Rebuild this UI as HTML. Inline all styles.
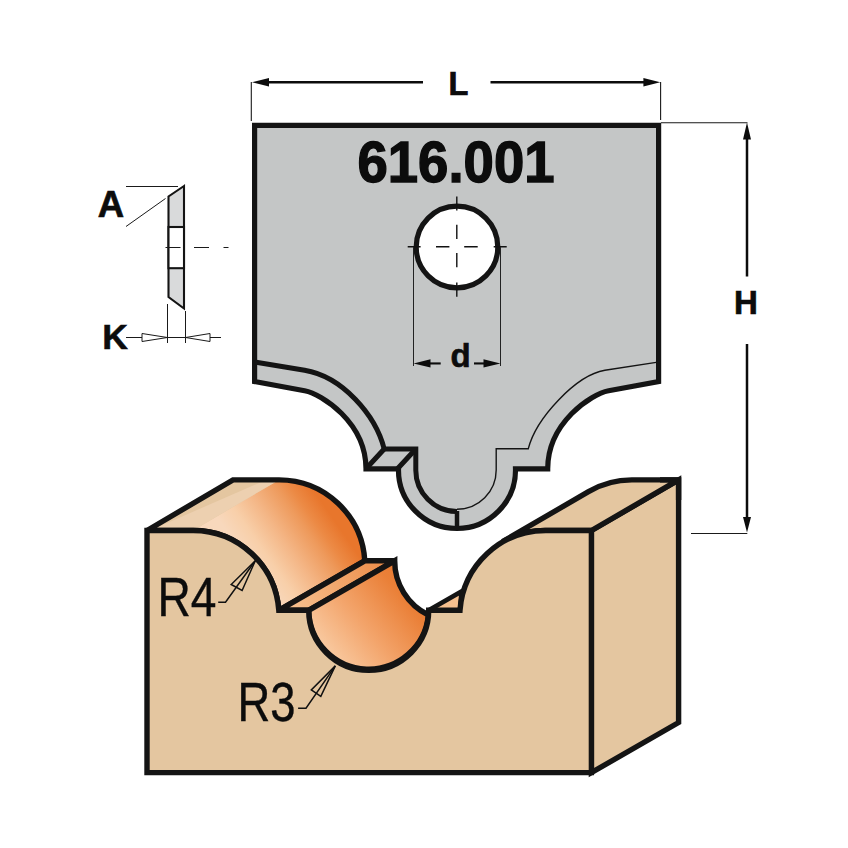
<!DOCTYPE html>
<html><head><meta charset="utf-8"><title>616.001</title>
<style>
html,body{margin:0;padding:0;background:#fff;}
svg{display:block;}
text{font-family:"Liberation Sans",Arial,sans-serif;fill:#0c0c0c;}
.b{font-weight:bold;}
</style></head><body>
<svg width="848" height="848" viewBox="0 0 848 848">
<defs>
<linearGradient id="g1" gradientUnits="userSpaceOnUse" x1="167.6" y1="445.8" x2="245.2" y2="391.9">
<stop offset="0" stop-color="#F8D8BC"/>
<stop offset="0.2" stop-color="#F8CFA9"/>
<stop offset="0.44" stop-color="#F4B686"/>
<stop offset="0.70" stop-color="#EE9A5C"/>
<stop offset="0.82" stop-color="#EC8A45"/>
<stop offset="1" stop-color="#E8762C"/>
</linearGradient>
<linearGradient id="g0" gradientUnits="userSpaceOnUse" x1="147" y1="530.8" x2="170" y2="570.6">
<stop offset="0" stop-color="#E4C6A0"/>
<stop offset="1" stop-color="#EBCDAA"/>
</linearGradient>
<linearGradient id="g2" gradientUnits="userSpaceOnUse" x1="320" y1="662" x2="428" y2="574">
<stop offset="0" stop-color="#FAD3AE"/>
<stop offset="0.4" stop-color="#F3A56C"/>
<stop offset="0.75" stop-color="#EA8038"/>
<stop offset="1" stop-color="#E7742A"/>
</linearGradient>
<linearGradient id="g3" gradientUnits="userSpaceOnUse" x1="290" y1="605" x2="390" y2="560">
<stop offset="0" stop-color="#F6C08F"/>
<stop offset="1" stop-color="#EC8A45"/>
</linearGradient>
</defs>
<rect width="848" height="848" fill="#fff"/>

<!-- ===== CUTTER ===== -->
<g id="cutter" stroke="#141414" stroke-linejoin="miter" fill="none">
<path id="cutbody" d="M254.6,125.4 L658.6,125.4 L658.6,381.5 L608.6,390.7 C591.7,393.8 547.7,422.4 547.7,468.8 L515.5,468.8 A58.5,58.5 0 0 1 457,528.5 A58.5,58.5 0 0 1 398.5,468.8 L366,468.8 C366,422.4 321.5,393.8 304.6,390.7 L254.6,381.5 Z" fill="#C4C6C6" stroke-width="5.2"/>
<!-- left thick bevel -->
<path d="M254.6,362 L304.6,370.3 C342.3,376.6 375.6,414.9 384.2,449 L415.8,449 L415.8,470 A41.2,41.2 0 0 0 457,511.5" stroke-width="5"/>
<path d="M366,468.8 L384.2,449 M397.5,468.8 L415.8,449" stroke-width="5"/>
<path d="M457,511 L457,528.5" stroke-width="4.5"/>
<!-- right thin bevel -->
<path d="M656.2,362.4 L604.9,370.3 C576,375.1 535.9,418.4 528.3,448.7 L496.2,448.7 L496.2,470 A39.3,39.3 0 0 1 457,509.3" stroke-width="1.4"/>
</g>
<!-- hole -->
<circle cx="457" cy="247" r="40.8" fill="#fff" stroke="#141414" stroke-width="5.2"/>
<g stroke="#111" stroke-width="1.4" fill="none">
<path d="M407.7,246.8 H420.6 M436,246.8 H449.4 M464.2,246.8 H477.7 M493.7,246.8 H506.7 M456.8,196.5 V210.6 M456.8,224.8 V238.9 M456.8,253 V267.2 M456.8,282.5 V296.7"/>
<path d="M413.5,247 V366 M500.5,247 V366" stroke-width="1" stroke="#222"/>
</g>
<!-- d arrows -->
<g fill="#0c0c0c" stroke="none">
<path d="M413.6,363.4 L430.5,359.2 L430.5,367.6 Z"/>
<rect x="430" y="362.4" width="10.7" height="2.1"/>
<path d="M500.4,363.4 L483.5,359.2 L483.5,367.6 Z"/>
<rect x="474" y="362.4" width="10" height="2.1"/>
</g>
<text class="b" x="460.5" y="367.4" font-size="33" text-anchor="middle" stroke="#0c0c0c" stroke-width="0.6">d</text>
<text class="b" id="t616" x="456" y="182.3" font-size="57" text-anchor="middle" textLength="197" lengthAdjust="spacingAndGlyphs" stroke="#0c0c0c" stroke-width="1.4">616.001</text>

<!-- L dimension -->
<g stroke="#1a1a1a" stroke-width="1.1" fill="none">
<path d="M251.3,82 V121 M660.6,82 V120 M661,122.7 H747.5"/>
<path d="M266,82.3 H423 M490.5,82.3 H646" stroke-width="2.5" stroke="#0c0c0c"/>
</g>
<path d="M252,82.3 L269,78.1 L269,86.5 Z M660.2,82.3 L643.4,78.1 L643.4,86.5 Z" fill="#0c0c0c"/>
<text class="b" x="458.5" y="95.4" font-size="32.5" text-anchor="middle" stroke="#0c0c0c" stroke-width="0.7">L</text>

<!-- H dimension -->
<g stroke="#0c0c0c" fill="none">
<path d="M747,137 V276.5 M747,344 V519" stroke-width="2.5"/>
<path d="M691,533.5 H747.3" stroke-width="1.1" stroke="#1a1a1a"/>
</g>
<path d="M747,122.4 L743,139.6 L751,139.6 Z M747,532.6 L743,517 L751,517 Z" fill="#0c0c0c"/>
<text class="b" x="746" y="313.9" font-size="33" text-anchor="middle" stroke="#0c0c0c" stroke-width="0.7">H</text>

<!-- ===== SIDE PROFILE (A / K) ===== -->
<g stroke="#141414" stroke-width="2.1" stroke-linejoin="miter">
<path d="M184,186 L168.5,196.5 L168.5,297 L184,308.5 Z" fill="#D9DADB"/>
<rect x="168.5" y="227" width="15.5" height="41.2" fill="#fff"/>
</g>
<g stroke="#1a1a1a" stroke-width="1" fill="none">
<path d="M126,186.5 H178 M126,226.5 L165.5,198.5"/>
<path d="M165.5,247.5 H180.5 M194,247.5 H209 M223.5,247.5 H228.5"/>
<path d="M126,337.5 H221 M167.5,304 V343 M185.5,311 V343"/>
<path d="M167.4,337.5 L142,333.5 L142,341.5 Z M185.6,337.5 L210,333.5 L210,341.5 Z" fill="#fff"/>
</g>
<text class="b" x="111" y="217.4" font-size="36.5" text-anchor="middle" stroke="#0c0c0c" stroke-width="0.7">A</text>
<text class="b" x="115" y="349.4" font-size="35.5" text-anchor="middle" stroke="#0c0c0c" stroke-width="0.6">K</text>

<!-- ===== WOOD BLOCK ===== -->
<g stroke="#141414" stroke-width="5.4" stroke-linejoin="miter" stroke-miterlimit="2.5">
<!-- right side face -->
<path d="M591.4,530.5 L678.6,479.9 L678.6,722.5 L591.4,772.6 Z" fill="#E4C6A0"/>
<!-- right top surface -->
<path d="M502.5,541.7 L588.5,491.6 A86,86 0 0 1 631.8,479.9 L678.6,479.9 L591.4,530.5 L545.8,530.5 A86,86 0 0 0 502.5,541.7 Z" fill="#E4C6A0"/>
<!-- big round top-left -->
<path d="M147,530.5 L233,479.9 L279,479.9 A86,86 0 0 1 364.8,560.8 L278.8,610.3 A86,86 0 0 0 193,530.5 Z" fill="url(#g1)" stroke="none"/>
<path d="M147,530.5 L233,479.9 L279,479.9 L193,530.5 Z" fill="#E4C6A0" stroke="none"/>
<path d="M150,530.5 L266,479.9 L279,479.9 L193,530.5 Z" fill="#EDD0B0" stroke="none"/>
<path d="M147,530.5 L233,479.9 L279,479.9 A86,86 0 0 1 364.8,560.8 L278.8,610.3 A86,86 0 0 0 193,530.5 Z" fill="none"/>
<!-- step top -->
<path d="M278.8,610.3 L364.8,560.8 L394.7,560.8 L308.7,610.3 Z" fill="url(#g3)"/>
<!-- lower round -->
<path d="M308.7,610.3 A60,60 0 0 0 428.4,615 A60,60 0 0 1 394.7,560.8 Z" fill="url(#g2)"/>
<!-- small right step -->
<path d="M428.7,610.3 L461.5,591.4 L460,610.3 Z" fill="#F6C08F" stroke-width="4.6"/>
<!-- front face -->
<path d="M147,530.5 L193,530.5 A86,86 0 0 1 278.8,610.3 L308.7,610.3 A60,60 0 0 0 428.7,610.3 L460,610.3 A86,86 0 0 1 545.8,530.5 L591.4,530.5 L591.4,772.6 L147,772.6 Z" fill="#E4C6A0"/>
</g>
<!-- clean outer corner top-right -->
<path d="M660,479.9 L678.6,479.9 L678.6,500" fill="none" stroke="#141414" stroke-width="5.4" stroke-linejoin="miter"/>

<!-- R4 / R3 labels -->
<g stroke="#111" stroke-width="1.5" fill="none">
<path d="M218.2,602.2 H225.5 L255.3,560.7"/>
<path d="M255.3,560.7 L231.2,584.5 L242.1,590.5 Z"/>
<path d="M298.1,708.3 H306 L335.3,665.9"/>
<path d="M335.3,665.9 L311.3,689.9 L320.8,696.3 Z"/>
</g>
<text id="r4" x="157.5" y="616.2" font-size="55" textLength="59" lengthAdjust="spacingAndGlyphs" stroke="#0c0c0c" stroke-width="0.4">R4</text>
<text id="r3" x="237.5" y="721" font-size="55" textLength="58" lengthAdjust="spacingAndGlyphs" stroke="#0c0c0c" stroke-width="0.4">R3</text>
</svg>
</body></html>
